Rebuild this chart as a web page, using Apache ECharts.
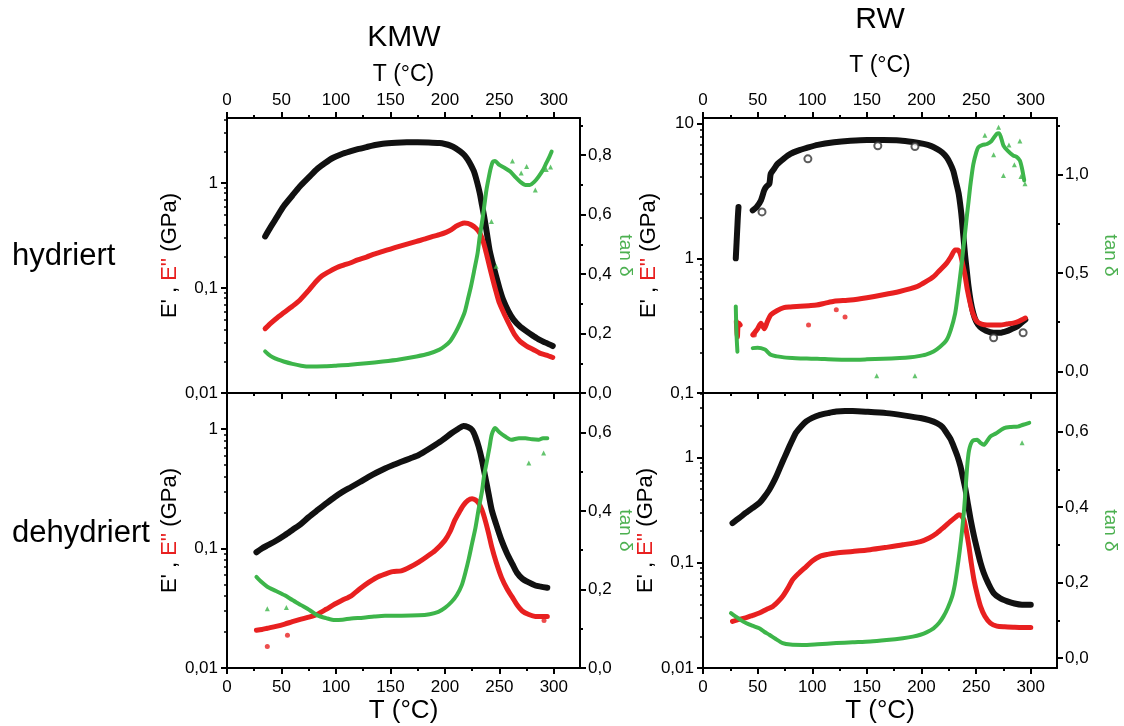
<!DOCTYPE html>
<html>
<head>
<meta charset="utf-8">
<script src="https://cdn.jsdelivr.net/npm/echarts@6/dist/echarts.min.js"></script>
<style>
html,body{margin:0;padding:0;background:#fff;}
#chart{width:1124px;height:726px;}
</style>
</head>
<body>
<div id="chart"></div>
<script>
// ---------------- tick labels ----------------
const xMajor = [0, 50, 100, 150, 200, 250, 300];
const xMinor = [25, 75, 125, 175, 225, 275];
const logMajorA = [0.01, 0.1, 1];
const logMajorB = [0.01, 0.1, 1];
const logMajorC = [0.1, 1, 10];
const logMajorD = [0.01, 0.1, 1];
const logDecades = [0.01, 0.1, 1, 10];
const logMinorMult = [2, 3, 4, 5, 6, 7, 8, 9];
const tanMajorA = [0, 0.2, 0.4, 0.6, 0.8];
const tanMinorA = [0.1, 0.3, 0.5, 0.7, 0.9];
const tanMajorB = [0, 0.2, 0.4, 0.6];
const tanMinorB = [0.1, 0.3, 0.5];
const tanMajorC = [0, 0.5, 1.0];
const tanMinorC = [0.25, 0.75, 1.25];
const tanMajorD = [0, 0.2, 0.4, 0.6];
const tanMinorD = [0.1, 0.3, 0.5];

// ---------------- KMW hydriert ----------------
const kmwHydE1 = [[35,0.31],[40,0.38],[45,0.46],[52,0.60],[60,0.76],[67,0.93],[75,1.13],[82,1.34],[90,1.55],[97,1.73],[105,1.88],[113,2.0],[120,2.1],[128,2.2],[136,2.3],[143,2.37],[155,2.42],[165,2.44],[175,2.44],[185,2.43],[195,2.4],[200,2.35],[205,2.27],[210,2.14],[214,2.0],[218,1.84],[221,1.67],[224,1.47],[227,1.26],[230,0.98],[232,0.80],[234,0.62],[236.5,0.45],[239,0.31],[241,0.23],[244,0.17],[247,0.13],[250,0.10],[253.5,0.077],[258,0.061],[263,0.050],[269,0.043],[275,0.0386],[281,0.035],[287,0.032],[293,0.030],[299,0.028]];
const kmwHydE2 = [[35,0.041],[40,0.046],[45,0.051],[52,0.058],[60,0.067],[67,0.077],[75,0.095],[82,0.116],[87,0.13],[92,0.14],[100,0.155],[107,0.165],[113,0.173],[120,0.185],[128,0.197],[135,0.21],[143,0.223],[150,0.235],[158,0.249],[166,0.263],[174,0.278],[182,0.293],[189,0.31],[195,0.322],[201,0.339],[206,0.36],[210,0.386],[214,0.405],[218,0.416],[221,0.412],[224,0.40],[228,0.375],[232,0.334],[235,0.28],[238,0.215],[241,0.16],[244,0.12],[247,0.092],[250,0.072],[255,0.055],[260,0.043],[264,0.036],[269,0.031],[275,0.028],[281,0.026],[287,0.024],[293,0.023],[299,0.0218]];
const kmwHydTan = [[35,0.140],[38,0.13],[42,0.12],[47,0.112],[52,0.106],[60,0.098],[68,0.092],[76,0.089],[90,0.09],[100,0.092],[113,0.095],[128,0.10],[143,0.106],[158,0.113],[174,0.123],[185,0.132],[195,0.146],[200,0.158],[205,0.175],[210,0.205],[214,0.235],[218,0.27],[221,0.314],[224,0.36],[227,0.414],[230,0.47],[232,0.526],[234.5,0.585],[236.5,0.639],[238,0.68],[240,0.72],[242,0.755],[244,0.778],[246,0.78],[250,0.767],[255,0.757],[260,0.745],[265,0.725],[269,0.711],[274,0.70],[278,0.70],[282,0.71],[286,0.728],[290,0.75],[293,0.773],[296,0.795],[298,0.812]];
const kmwHydTanOut = [[242.7,0.577],[247,0.426],[275,0.762],[283,0.683],[293,0.752],[262,0.78],[270,0.74],[297,0.76]];

// ---------------- KMW dehydriert ----------------
const kmwDehE1 = [[27,0.093],[32,0.10],[37,0.106],[45,0.116],[53,0.129],[60,0.143],[68,0.161],[75,0.183],[83,0.209],[91,0.238],[99,0.27],[106,0.298],[114,0.327],[122,0.36],[130,0.397],[137,0.43],[145,0.467],[152,0.497],[160,0.531],[168,0.567],[176,0.605],[183,0.66],[191,0.734],[198,0.81],[206,0.92],[212,1.0],[217,1.06],[221,1.04],[225,0.98],[228,0.86],[231,0.71],[234,0.55],[237,0.40],[240,0.29],[243,0.21],[247,0.16],[252,0.117],[257,0.091],[262,0.074],[266,0.063],[271,0.056],[277,0.052],[283,0.049],[288,0.048],[294,0.047]];
const kmwDehE2 = [[27,0.0207],[32,0.021],[37,0.0215],[45,0.0223],[53,0.0233],[60,0.0244],[68,0.0256],[76,0.0268],[83,0.0282],[91,0.031],[99,0.0343],[106,0.037],[114,0.0402],[122,0.046],[130,0.052],[137,0.057],[145,0.061],[152,0.064],[160,0.065],[168,0.07],[176,0.077],[183,0.085],[191,0.096],[200,0.117],[205,0.14],[209,0.172],[213,0.2],[217,0.23],[221,0.252],[225,0.261],[228,0.255],[231,0.24],[234,0.21],[237,0.172],[240,0.135],[243,0.103],[247,0.077],[252,0.057],[257,0.046],[262,0.039],[266,0.034],[271,0.030],[277,0.028],[283,0.027],[288,0.027],[294,0.027]];
const kmwDehE2Out = [[37,0.0151],[55.5,0.0188],[291,0.025]];
const kmwDehTan = [[27,0.232],[32,0.218],[37,0.207],[45,0.196],[53,0.185],[60,0.173],[68,0.160],[76,0.147],[83,0.134],[91,0.127],[99,0.122],[106,0.123],[114,0.126],[125,0.128],[135,0.131],[145,0.133],[160,0.133],[176,0.134],[186,0.137],[194,0.143],[200,0.153],[206,0.168],[211,0.186],[215.5,0.211],[219,0.245],[222,0.279],[225,0.318],[228,0.356],[231,0.405],[234,0.449],[236,0.49],[238.5,0.526],[241,0.563],[243,0.594],[246,0.611],[250,0.60],[255,0.59],[261,0.581],[268,0.585],[274,0.585],[280,0.582],[286,0.581],[290,0.585],[294,0.585]];
const kmwDehTanOut = [[37,0.151],[54.5,0.154],[277,0.522],[290.6,0.547]];

// ---------------- RW hydriert ----------------
const rwHydE1 = [[30,1.0],[30.5,1.2],[31,1.45],[31.5,1.75],[32,2.1],[32.5,2.4],[38,'-'],[45.5,2.27],[49,2.4],[53,2.69],[56,3.19],[58,3.4],[60.7,3.58],[62,4.24],[65,4.6],[68,5.0],[74,5.5],[80,5.96],[87,6.3],[95,6.6],[105,6.95],[120,7.26],[135,7.45],[150,7.55],[165,7.55],[180,7.5],[192,7.3],[202,7.06],[209,6.8],[214,6.49],[219,6.1],[223,5.62],[226,5.1],[229,4.48],[231.5,3.7],[234,3.02],[236,2.3],[237,1.92],[238.5,1.4],[240,1.03],[241.5,0.8],[243,0.62],[245,0.48],[247.4,0.39],[250,0.34],[253.5,0.31],[259,0.29],[266,0.28],[272,0.28],[278,0.288],[283,0.30],[287,0.31],[291,0.33],[295,0.35]];
const rwHydE1Out = [[96,5.47],[160,6.85],[194,6.75],[54,2.21],[293,0.28],[266,0.257]];
const rwHydE2 = [[30.5,0.34],[31,0.29],[31.5,0.26],[32,0.31],[33,0.33],[34,0.32],[38,'-'],[45.5,0.27],[50,0.30],[53,0.33],[56,0.30],[59,0.34],[62,0.38],[68,0.41],[74,0.43],[80,0.435],[89,0.44],[97,0.445],[104,0.45],[112,0.465],[120,0.48],[135,0.49],[150,0.51],[165,0.536],[180,0.567],[190,0.595],[196,0.617],[204,0.67],[211,0.73],[217,0.82],[223,0.92],[227,1.03],[230.8,1.15],[233,1.15],[235.3,1.09],[237.5,0.92],[240,0.73],[242,0.58],[244.5,0.466],[247,0.39],[250.6,0.34],[255,0.325],[260,0.32],[266,0.32],[272,0.32],[278,0.325],[284,0.33],[289,0.34],[295,0.36]];
const rwHydE2Out = [[96.6,0.32],[122,0.415],[130,0.367],[47,0.27]];
const rwHydTan = [[30,0.33],[30.3,0.26],[30.6,0.2],[31,0.15],[31.5,0.10],[38,'-'],[45.5,0.118],[50,0.12],[53,0.118],[57,0.11],[62,0.084],[68,0.076],[74,0.071],[85,0.067],[95,0.065],[104.5,0.064],[120,0.06],[135,0.059],[150,0.061],[165,0.064],[180,0.068],[190,0.072],[196,0.076],[204,0.085],[211,0.101],[217,0.125],[223,0.16],[227,0.215],[230.8,0.295],[233,0.38],[235.3,0.48],[237,0.56],[238.4,0.632],[240,0.71],[241.4,0.784],[243,0.86],[244.5,0.936],[246,1.0],[247.5,1.054],[250,1.11],[252,1.138],[256,1.15],[260,1.155],[264,1.17],[268.8,1.206],[271,1.21],[275,1.147],[279,1.12],[284,1.096],[287,1.09],[290,1.071],[292,1.03],[294,0.97]];
const rwHydTanOut = [[159,-0.022],[194,-0.022],[275,0.995],[290,1.17],[270.5,1.24],[266,1.10],[280,1.15],[258,1.20],[285,1.05],[291,0.99],[294.7,0.953]];

// ---------------- RW dehydriert ----------------
const rwDehE1 = [[27,0.238],[33,0.265],[39,0.297],[45,0.33],[51.5,0.369],[56,0.42],[60.7,0.494],[64,0.57],[67,0.66],[70,0.78],[73,0.92],[76,1.08],[79,1.27],[82,1.48],[85,1.71],[90,1.98],[94.5,2.2],[100,2.38],[107,2.54],[115,2.65],[122,2.73],[130,2.76],[137,2.76],[150,2.72],[168,2.64],[185,2.5],[199,2.37],[207,2.26],[214,2.12],[219,1.95],[223,1.71],[226.5,1.5],[229.5,1.27],[233,1.02],[235.7,0.82],[238,0.64],[240.3,0.494],[242.5,0.36],[245,0.256],[248,0.18],[251,0.133],[254,0.10],[257,0.080],[261,0.064],[266,0.0515],[272,0.046],[278.6,0.043],[285,0.041],[292,0.040],[300,0.040]];
const rwDehE2 = [[27,0.0277],[33,0.029],[39,0.030],[45,0.0315],[51.5,0.0333],[58,0.036],[64,0.0385],[69,0.043],[73,0.048],[78,0.058],[82,0.069],[88,0.08],[94.5,0.092],[100,0.104],[107,0.115],[114,0.12],[122,0.124],[137,0.128],[153,0.133],[168,0.14],[183,0.148],[199,0.159],[207,0.172],[214,0.191],[220,0.215],[226.5,0.247],[231,0.27],[234.2,0.286],[236.5,0.28],[238.8,0.256],[241,0.2],[243.4,0.143],[245.5,0.1],[248,0.069],[251,0.05],[254,0.0385],[258,0.031],[263,0.0267],[269,0.025],[276,0.0246],[285,0.0244],[292,0.0243],[300,0.0243]];
const rwDehTan = [[25.6,0.119],[30,0.11],[35,0.1],[39.3,0.093],[45,0.086],[51.5,0.079],[56,0.07],[60.7,0.062],[66,0.052],[73,0.040],[80,0.036],[91,0.035],[105,0.037],[122,0.040],[137,0.042],[153,0.044],[168,0.048],[183,0.053],[192,0.057],[199,0.062],[205,0.069],[211,0.079],[216,0.093],[220,0.110],[224,0.133],[228,0.163],[230.5,0.195],[232.6,0.234],[235,0.285],[237.2,0.340],[239,0.395],[240.3,0.446],[241.8,0.508],[243.5,0.55],[246.4,0.574],[251,0.578],[254,0.57],[257,0.565],[260,0.575],[263,0.587],[268,0.595],[275.6,0.609],[282,0.612],[288,0.613],[293,0.618],[298.6,0.623]];
const rwDehTanOut = [[292,0.57]];

// ---------------- styling / layout ----------------
const FONT = "'Liberation Sans', Arial, Helvetica, sans-serif";
const BLACK = '#000000', RED = '#e82020', GREEN = '#3db54a', GREEN_TXT = '#4cb050';
const X_MAX = 324;

const logMinor = [];
logDecades.forEach(d => logMinorMult.forEach(m => logMinor.push(+(d * m).toPrecision(3))));

function fmtLog(v) {
  const n = Number(v);
  const s = n >= 1 ? String(Math.round(n)) : String(parseFloat(n.toPrecision(3)));
  return s.replace('.', ',');
}
function fmtTan(v) { return Number(v).toFixed(1).replace('.', ','); }

const panels = [
  { grid: {left: 227, top: 118, width: 353, height: 275}, top: true, logMin: 0.01, logMax: 4.16, logMajor: logMajorA,
    tanMin: 0, tanMax: 0.925, tanMajor: tanMajorA, tanMinor: tanMinorA, leftGap: 45, rightGap: 36, xNameGap: 32,
    e1: kmwHydE1, e2: kmwHydE2, tan: kmwHydTan, e1Out: [], e2Out: [], tanOut: kmwHydTanOut },
  { grid: {left: 227, top: 393, width: 353, height: 275}, top: false, logMin: 0.01, logMax: 2.0, logMajor: logMajorB,
    tanMin: 0, tanMax: 0.70, tanMajor: tanMajorB, tanMinor: tanMinorB, leftGap: 45, rightGap: 36, xNameGap: 30,
    e1: kmwDehE1, e2: kmwDehE2, tan: kmwDehTan, e1Out: [], e2Out: kmwDehE2Out, tanOut: kmwDehTanOut },
  { grid: {left: 703, top: 118, width: 354, height: 275}, top: true, logMin: 0.1, logMax: 11, logMajor: logMajorC,
    tanMin: -0.11, tanMax: 1.287, tanMajor: tanMajorC, tanMinor: tanMinorC, leftGap: 43, rightGap: 44, xNameGap: 41,
    e1: rwHydE1, e2: rwHydE2, tan: rwHydTan, e1Out: rwHydE1Out, e2Out: rwHydE2Out, tanOut: rwHydTanOut },
  { grid: {left: 703, top: 393, width: 354, height: 275}, top: false, logMin: 0.01, logMax: 4.1, logMajor: logMajorD,
    tanMin: -0.026, tanMax: 0.702, tanMajor: tanMajorD, tanMinor: tanMinorD, leftGap: 43, rightGap: 44, xNameGap: 30,
    e1: rwDehE1, e2: rwDehE2, tan: rwDehTan, e1Out: [], e2Out: [], tanOut: rwDehTanOut }
];

const grid = [], xAxis = [], yAxis = [], series = [];
const lineAx = {show: true, onZero: false, lineStyle: {color: BLACK, width: 2}};
const noLine = {show: false, onZero: false};

panels.forEach((p, g) => {
  grid.push(Object.assign({}, p.grid, {containLabel: false, outerBoundsMode: 'none'}));
  const xBase = {gridIndex: g, type: 'value', min: 0, max: X_MAX, splitLine: {show: false}};
  const xMainIdx = xAxis.length;
  const mainPos = p.top ? 'top' : 'bottom';
  xAxis.push(Object.assign({}, xBase, {
    position: mainPos, axisLine: lineAx,
    axisTick: {show: true, inside: false, length: 6, customValues: xMajor, lineStyle: {color: BLACK, width: 2}},
    axisLabel: {show: true, customValues: xMajor, fontSize: 17, fontFamily: FONT, color: BLACK, margin: p.top ? 9 : 11},
    name: 'T (°C)', nameLocation: 'middle', nameGap: p.xNameGap,
    nameTextStyle: {fontSize: p.top ? 23 : 26, fontFamily: FONT, color: BLACK}
  }));
  xAxis.push(Object.assign({}, xBase, {
    position: mainPos, axisLine: noLine,
    axisTick: {show: true, inside: false, length: 3, customValues: xMinor, lineStyle: {color: BLACK, width: 2}},
    axisLabel: {show: false}
  }));
  const otherPos = p.top ? 'bottom' : 'top';
  xAxis.push(Object.assign({}, xBase, {
    position: otherPos, axisLine: lineAx,
    axisTick: {show: !p.top, inside: true, length: 6, customValues: xMajor, lineStyle: {color: BLACK, width: 2}},
    axisLabel: {show: false}
  }));
  if (!p.top) {
    xAxis.push(Object.assign({}, xBase, {
      position: otherPos, axisLine: noLine,
      axisTick: {show: true, inside: true, length: 3, customValues: xMinor, lineStyle: {color: BLACK, width: 2}},
      axisLabel: {show: false}
    }));
  }

  const yLogIdx = yAxis.length;
  yAxis.push({
    gridIndex: g, type: 'log', logBase: 10, min: p.logMin, max: p.logMax, position: 'left', splitLine: {show: false},
    axisLine: lineAx,
    axisTick: {show: true, inside: false, length: 6, customValues: p.logMajor, lineStyle: {color: BLACK, width: 2}},
    axisLabel: {show: true, customValues: p.logMajor, formatter: fmtLog, fontSize: 17, fontFamily: FONT, color: BLACK, margin: 9},
    name: "{k|E' , }{r|E''}{k| (GPa)}", nameLocation: 'middle', nameGap: p.leftGap, nameRotate: 90,
    nameTextStyle: {fontSize: 22, fontFamily: FONT, color: BLACK,
      rich: {k: {fontSize: 22, fontFamily: FONT, color: BLACK}, r: {fontSize: 22, fontFamily: FONT, color: RED}}}
  });
  yAxis.push({
    gridIndex: g, type: 'log', logBase: 10, min: p.logMin, max: p.logMax, position: 'left', splitLine: {show: false},
    axisLine: noLine,
    axisTick: {show: true, inside: false, length: 3, customValues: logMinor, lineStyle: {color: BLACK, width: 1.5}},
    axisLabel: {show: false}
  });
  const yTanIdx = yAxis.length;
  yAxis.push({
    gridIndex: g, type: 'value', min: p.tanMin, max: p.tanMax, position: 'right', splitLine: {show: false},
    axisLine: lineAx,
    axisTick: {show: true, inside: false, length: 6, customValues: p.tanMajor, lineStyle: {color: BLACK, width: 2}},
    axisLabel: {show: true, customValues: p.tanMajor, formatter: fmtTan, fontSize: 17, fontFamily: FONT, color: BLACK, margin: 8},
    name: 'tan δ', nameLocation: 'middle', nameGap: p.rightGap, nameRotate: -90,
    nameTextStyle: {fontSize: 19, fontFamily: FONT, color: GREEN_TXT}
  });
  yAxis.push({
    gridIndex: g, type: 'value', min: p.tanMin, max: p.tanMax, position: 'right', splitLine: {show: false},
    axisLine: noLine,
    axisTick: {show: true, inside: false, length: 3, customValues: p.tanMinor, lineStyle: {color: BLACK, width: 2}},
    axisLabel: {show: false}
  });

  const lineCommon = {type: 'line', xAxisIndex: xMainIdx, showSymbol: false, symbol: 'none', smooth: 0.25,
    connectNulls: false, silent: true};
  series.push(Object.assign({}, lineCommon, {name: "E'", yAxisIndex: yLogIdx, data: p.e1, z: 2,
    lineStyle: {color: '#111', width: 6, cap: 'round', join: 'round'}}));
  series.push(Object.assign({}, lineCommon, {name: "E''", yAxisIndex: yLogIdx, data: p.e2, z: 3,
    lineStyle: {color: RED, width: 5, cap: 'round', join: 'round'}}));
  series.push(Object.assign({}, lineCommon, {name: 'tan δ', yAxisIndex: yTanIdx, data: p.tan, z: 4,
    lineStyle: {color: GREEN, width: 4, cap: 'round', join: 'round'}}));
  const scatCommon = {type: 'scatter', xAxisIndex: xMainIdx, silent: true};
  series.push(Object.assign({}, scatCommon, {yAxisIndex: yLogIdx, data: p.e1Out, symbol: 'emptyCircle', symbolSize: 7, z: 2,
    itemStyle: {color: '#333', borderColor: '#333', borderWidth: 1.2}}));
  series.push(Object.assign({}, scatCommon, {yAxisIndex: yLogIdx, data: p.e2Out, symbol: 'circle', symbolSize: 5, z: 3,
    itemStyle: {color: RED}}));
  series.push(Object.assign({}, scatCommon, {yAxisIndex: yTanIdx, data: p.tanOut, symbol: 'triangle', symbolSize: 5, z: 4,
    itemStyle: {color: GREEN}}));
});

const graphic = [
  {type: 'text', x: 404, y: 38, style: {text: 'KMW', fontSize: 30, fontFamily: FONT, fill: BLACK, align: 'center', verticalAlign: 'middle'}},
  {type: 'text', x: 880, y: 20, style: {text: 'RW', fontSize: 30, fontFamily: FONT, fill: BLACK, align: 'center', verticalAlign: 'middle'}},
  {type: 'text', x: 12, y: 256, style: {text: 'hydriert', fontSize: 31, fontFamily: FONT, fill: BLACK, align: 'left', verticalAlign: 'middle'}},
  {type: 'text', x: 12, y: 533, style: {text: 'dehydriert', fontSize: 31, fontFamily: FONT, fill: BLACK, align: 'left', verticalAlign: 'middle'}}
];

const chart = echarts.init(document.getElementById('chart'), null, {renderer: 'canvas'});
chart.setOption({
  animation: false,
  backgroundColor: '#ffffff',
  textStyle: {fontFamily: FONT},
  grid, xAxis, yAxis, series, graphic
});
</script>
</body>
</html>
